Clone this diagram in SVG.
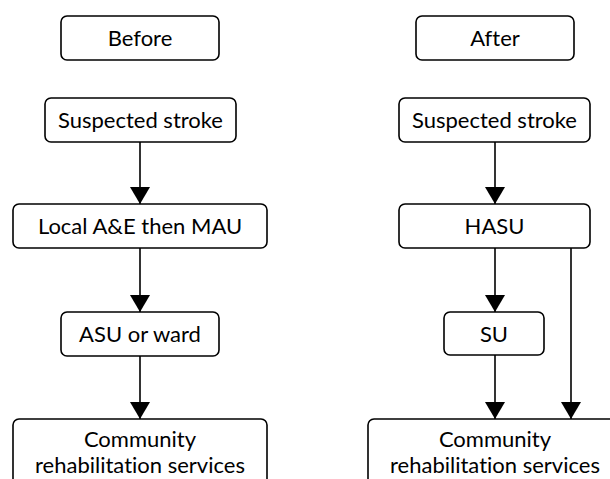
<svg xmlns="http://www.w3.org/2000/svg" width="610" height="479" viewBox="0 0 610 479">
<style>
.box{fill:#fff;stroke:#000;stroke-width:1.6}
.lbl{font-family:Lato,"Liberation Sans",sans-serif;font-size:22px;fill:#000;text-anchor:middle;font-variant-ligatures:none}
.conn{fill:none;stroke:#000;stroke-width:1.6}
</style>
<defs>
<marker id="ah" viewBox="0 0 17 20" refX="17" refY="10" markerWidth="17" markerHeight="20" markerUnits="userSpaceOnUse" orient="auto">
<path d="M0,0 L17,10 L0,20 z" fill="#000"/>
</marker>
</defs>
<rect width="610" height="479" fill="#fff"/>
<g id="connectors">
<path class="conn" d="M140,142 V204" marker-end="url(#ah)"/>
<path class="conn" d="M140,248 V312" marker-end="url(#ah)"/>
<path class="conn" d="M140,356 V419" marker-end="url(#ah)"/>
<path class="conn" d="M495,142 V204" marker-end="url(#ah)"/>
<path class="conn" d="M495,248 V312" marker-end="url(#ah)"/>
<path class="conn" d="M495,355 V419" marker-end="url(#ah)"/>
<path class="conn" d="M571,248 V419" marker-end="url(#ah)"/>
</g>
<g id="before">
<rect class="box" x="61" y="16" width="158" height="44" rx="6"/>
<text class="lbl" x="140" y="46">Before</text>
</g>
<g id="after">
<rect class="box" x="416" y="16" width="158" height="44" rx="6"/>
<text class="lbl" x="495" y="46">After</text>
</g>
<g id="suspected-before">
<rect class="box" x="45" y="98" width="191" height="44" rx="6"/>
<text class="lbl" x="140.5" y="128">Suspected stroke</text>
</g>
<g id="suspected-after">
<rect class="box" x="399" y="98" width="191" height="44" rx="6"/>
<text class="lbl" x="494.5" y="128">Suspected stroke</text>
</g>
<g id="local-ae">
<rect class="box" x="13" y="204" width="254" height="44" rx="6"/>
<text class="lbl" x="140" y="234">Local A&amp;E then MAU</text>
</g>
<g id="hasu">
<rect class="box" x="399" y="204" width="191" height="44" rx="6"/>
<text class="lbl" x="494.5" y="234">HASU</text>
</g>
<g id="asu">
<rect class="box" x="61" y="312" width="158" height="44" rx="6"/>
<text class="lbl" x="140" y="342">ASU or ward</text>
</g>
<g id="su">
<rect class="box" x="444" y="312" width="100" height="43" rx="6"/>
<text class="lbl" x="494" y="342">SU</text>
</g>
<g id="community-before">
<rect class="box" x="13" y="419" width="254" height="80" rx="6"/>
<text class="lbl" x="140" y="447">Community</text>
<text class="lbl" x="140" y="473">rehabilitation services</text>
</g>
<g id="community-after">
<rect class="box" x="368" y="419" width="254" height="80" rx="6"/>
<text class="lbl" x="495" y="447">Community</text>
<text class="lbl" x="495" y="473">rehabilitation services</text>
</g>
</svg>
